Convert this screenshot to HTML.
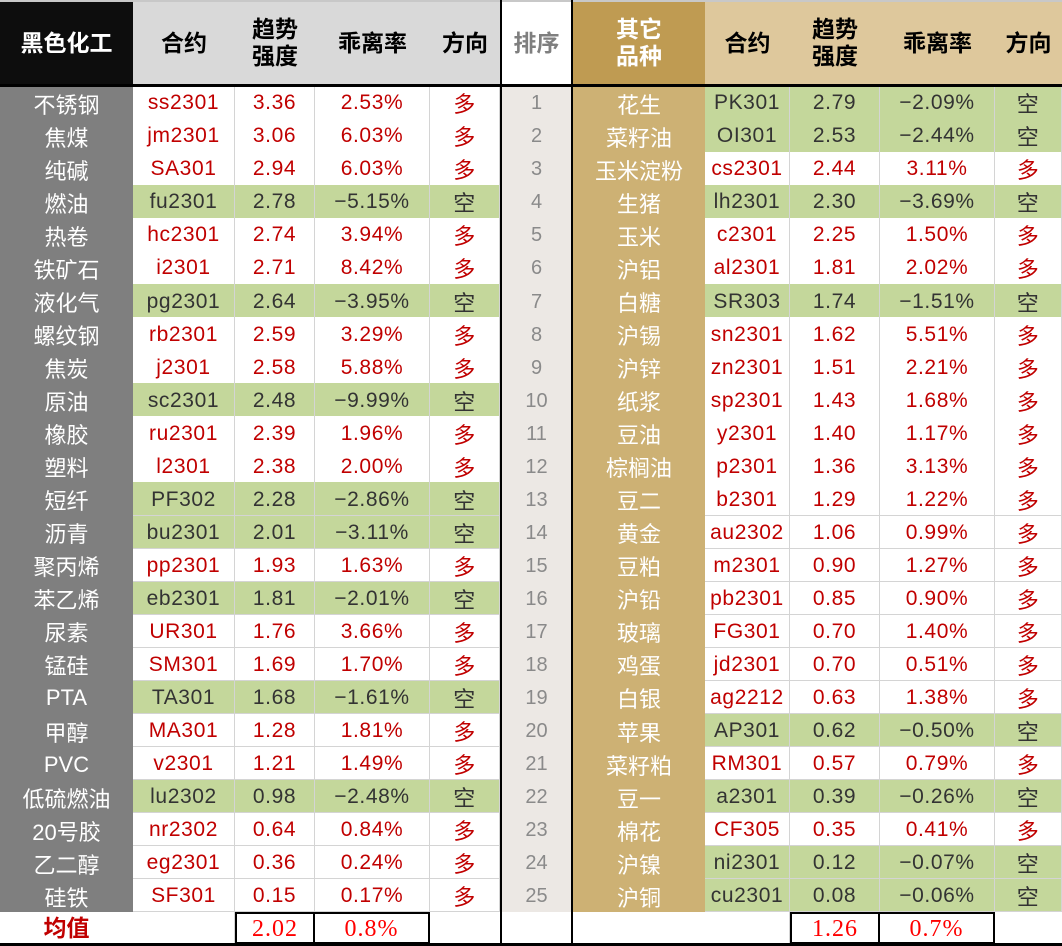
<!DOCTYPE html>
<html><head><meta charset="utf-8">
<style>
body{margin:0;width:1062px;height:946px;overflow:hidden;background:#fff;position:relative;font-family:"Liberation Sans","Noto Sans CJK SC",sans-serif}
.c{position:absolute;box-sizing:border-box;display:flex;align-items:center;justify-content:center;white-space:nowrap}
.h{font-weight:bold;font-size:23px;line-height:27px;text-align:center;color:#000}
.d{font-size:21px;letter-spacing:0.6px;border-right:1px solid #d4d4d4;border-bottom:1px solid #d4d4d4;font-family:"Liberation Sans","Noto Sans CJK SC",sans-serif;padding-top:2px}
.n{color:#fff;font-size:22px;font-family:"Liberation Sans","Noto Sans CJK SC",sans-serif;padding-top:2px}
.line{position:absolute;background:#000}
</style></head><body>
<script>
const leftNames=["不锈钢","焦煤","纯碱","燃油","热卷","铁矿石","液化气","螺纹钢","焦炭","原油","橡胶","塑料","短纤","沥青","聚丙烯","苯乙烯","尿素","锰硅","PTA","甲醇","PVC","低硫燃油","20号胶","乙二醇","硅铁"];
const leftCodes=["ss2301","jm2301","SA301","fu2301","hc2301","i2301","pg2301","rb2301","j2301","sc2301","ru2301","l2301","PF302","bu2301","pp2301","eb2301","UR301","SM301","TA301","MA301","v2301","lu2302","nr2302","eg2301","SF301"];
const leftStrength=[3.36,3.06,2.94,2.78,2.74,2.71,2.64,2.59,2.58,2.48,2.39,2.38,2.28,2.01,1.93,1.81,1.76,1.69,1.68,1.28,1.21,0.98,0.64,0.36,0.15];
const leftDev=[2.53,6.03,6.03,-5.15,3.94,8.42,-3.95,3.29,5.88,-9.99,1.96,2.00,-2.86,-3.11,1.63,-2.01,3.66,1.70,-1.61,1.81,1.49,-2.48,0.84,0.24,0.17];
const rightNames=["花生","菜籽油","玉米淀粉","生猪","玉米","沪铝","白糖","沪锡","沪锌","纸浆","豆油","棕榈油","豆二","黄金","豆粕","沪铅","玻璃","鸡蛋","白银","苹果","菜籽粕","豆一","棉花","沪镍","沪铜"];
const rightCodes=["PK301","OI301","cs2301","lh2301","c2301","al2301","SR303","sn2301","zn2301","sp2301","y2301","p2301","b2301","au2302","m2301","pb2301","FG301","jd2301","ag2212","AP301","RM301","a2301","CF305","ni2301","cu2301"];
const rightStrength=[2.79,2.53,2.44,2.30,2.25,1.81,1.74,1.62,1.51,1.43,1.40,1.36,1.29,1.06,0.90,0.85,0.70,0.70,0.63,0.62,0.57,0.39,0.35,0.12,0.08];
const rightDev=[-2.09,-2.44,3.11,-3.69,1.50,2.02,-1.51,5.51,2.21,1.68,1.17,3.13,1.22,0.99,1.27,0.90,1.40,0.51,1.38,-0.50,0.79,-0.26,0.41,-0.07,-0.06];
const leftMean="2.02", leftMeanDev="0.8%", rightMean="1.26", rightMeanDev="0.7%";

const T=86, RH=33.04;
function cell(x,y,w,h,cls,txt,bg,color,name){
  const e=document.createElement('div');
  e.className='c '+cls;
  e.style.left=x+'px';e.style.top=y+'px';e.style.width=w+'px';e.style.height=h+'px';
  if(bg)e.style.background=bg; if(color)e.style.color=color;
  e.innerHTML=txt;
  
  
  document.body.appendChild(e);return e;
}
cell(0,2,133,82,'h','黑色化工','#0d0d0d','#fff','left-group-header');
cell(133,2,367,82,'h','','#d9d9d9','','left-header-bg');
cell(133,2,102,82,'h','合约','','','left-contract-header');
cell(235,2,80,82,'h','趋势<br>强度','','','left-strength-header');
cell(315,2,115,82,'h','乖离率','','','left-deviation-header');
cell(430,2,70,82,'h','方向','','','left-direction-header');
cell(502,2,69,82,'h','排序','#fff','#7f7f7f','rank-header');
cell(573,2,132,82,'h','其它<br>品种','#bf9b52','#fff','right-group-header');
cell(705,2,357,82,'h','','#dec89c','','right-header-bg');
cell(705,2,85,82,'h','合约','','','right-contract-header');
cell(790,2,90,82,'h','趋势<br>强度','','','right-strength-header');
cell(880,2,115,82,'h','乖离率','','','right-deviation-header');
cell(995,2,67,82,'h','方向','','','right-direction-header');
const top0=document.createElement('div');top0.className='line';top0.style.cssText='left:0;top:0;width:1062px;height:2px;background:#c8c8c8';


document.body.appendChild(top0);

function fmt(v){return (v<0?'−':'')+Math.abs(v).toFixed(2)+'%';}
function rows(names,codes,str,dev,xs,ws,prefix,nameBg){
  for(let i=0;i<names.length;i++){
    const y=T+i*RH, h=RH+0.5;
    const short=dev[i]<0;
    const bg=short?'#c4d79b':'#fff', col=short?'#333':'#c00000';
    cell(xs[0],y,ws[0],h,'n',names[i],nameBg,'',prefix+'-name-'+(i+1));
    cell(xs[1],y,ws[1],h,'d',codes[i],bg,col,prefix+'-contract-'+(i+1));
    cell(xs[2],y,ws[2],h,'d',str[i].toFixed(2),bg,col,prefix+'-strength-'+(i+1));
    cell(xs[3],y,ws[3],h,'d',fmt(dev[i]),bg,col,prefix+'-deviation-'+(i+1));
    const dd=cell(xs[4],y,ws[4],h,'d',short?'空':'多',bg,col,prefix+'-direction-'+(i+1));
    dd.style.fontSize='22px';
  }
}
rows(leftNames,leftCodes,leftStrength,leftDev,[0,133,235,315,430],[133,102,80,115,70],'left','#7f7f7f');
rows(rightNames,rightCodes,rightStrength,rightDev,[573,705,790,880,995],[132,85,90,115,67],'right','#cdb174');
for(let i=0;i<25;i++){
  const r=cell(502,T+i*RH,69,RH+0.5,'',String(i+1),'#ece8e4','#8a8a8a','rank-'+(i+1));
  r.style.fontSize='20px';r.style.paddingTop='2px';
}
const MY=912, MH=32;
cell(0,MY,133,MH,'h','均值','#fff','#c00000','left-mean-label');
cell(133,MY,102,MH,'d','','#fff','','left-mean-blank');
function meanCell(x,w,t,n){const m=cell(x,MY,w,MH,'d',t,'#fff','#f00',n);m.style.border='2px solid #000';m.style.fontFamily='"Liberation Serif",serif';m.style.fontSize='24px';m.style.letterSpacing='1px';return m;}
meanCell(235,80,leftMean,'left-mean-strength');
meanCell(313,117,leftMeanDev,'left-mean-deviation');
meanCell(790,90,rightMean,'right-mean-strength');
meanCell(878,117,rightMeanDev,'right-mean-deviation');
cell(705,MY,85,MH,'d','','#fff','','right-mean-blank');
[[0,84,1062,2.5],[0,943,1062,3],[500,0,2,946],[571,0,2,946]].forEach((a,k)=>{
  const l=document.createElement('div');l.className='line';
  l.style.left=a[0]+'px';l.style.top=a[1]+'px';l.style.width=a[2]+'px';l.style.height=a[3]+'px';
  
  
  document.body.appendChild(l);
});
</script>
</body></html>
